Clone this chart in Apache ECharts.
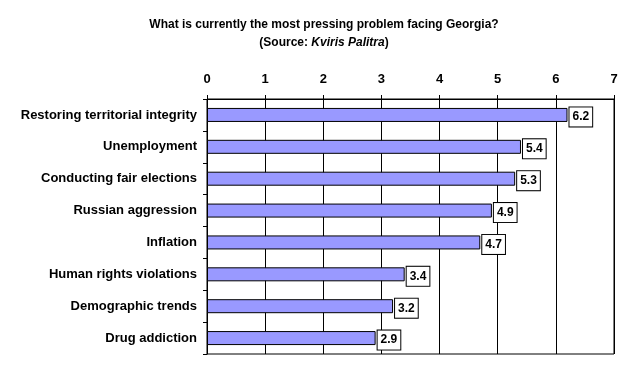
<!DOCTYPE html>
<html>
<head>
<meta charset="utf-8">
<script src="https://cdn.jsdelivr.net/npm/echarts@6/dist/echarts.min.js"></script>
<style>
html,body{margin:0;padding:0;background:#fff;}
#chart{width:635px;height:369px;}
</style>
</head>
<body>
<div id="chart"></div>
<script>
var categories = ["Restoring territorial integrity","Unemployment","Conducting fair elections","Russian aggression","Inflation","Human rights violations","Demographic trends","Drug addiction"];
var values = [6.2, 5.4, 5.3, 4.9, 4.7, 3.4, 3.2, 2.9];
var FONT = "'Liberation Sans', Arial, sans-serif";

var chart = echarts.init(document.getElementById('chart'), null, {renderer:'canvas'});
chart.setOption({
  backgroundColor:'#ffffff',
  animation:false,
  title:{
    text:'What is currently the most pressing problem facing Georgia?\n{n|(Source: }{i|Kviris Palitra}{n|)}',
    left:319, top:11, textAlign:'center',
    textStyle:{fontFamily:FONT,fontSize:12,fontWeight:'bold',color:'#000',lineHeight:18,
      rich:{n:{fontFamily:FONT,fontSize:12,fontWeight:'bold',color:'#000'},
            i:{fontFamily:FONT,fontSize:12,fontWeight:'bold',fontStyle:'italic',color:'#000'}}}
  },
  grid:{left:207,right:21,top:99,bottom:15,show:true,borderColor:'#000',borderWidth:1},
  xAxis:{
    type:'value',position:'top',min:0,max:7,interval:1,
    axisLine:{show:true,lineStyle:{color:'#000',width:1}},
    axisTick:{show:true,length:4,inside:false,lineStyle:{color:'#000'}},
    axisLabel:{fontFamily:FONT,fontSize:13,fontWeight:'bold',color:'#000',margin:13},
    splitLine:{show:true,lineStyle:{color:'#000',width:1}}
  },
  yAxis:{
    type:'category',data:categories,inverse:true,
    axisLine:{show:true,lineStyle:{color:'#000',width:1}},
    axisTick:{show:true,length:4,lineStyle:{color:'#000'}},
    axisLabel:{fontFamily:FONT,fontSize:13,fontWeight:'bold',color:'#000',margin:10},
    splitLine:{show:false}
  },
  series:[{
    type:'bar',data:values,barWidth:14,
    itemStyle:{color:'#9999ff',borderColor:'#000',borderWidth:1},
    label:{show:true,position:'right',distance:2,offset:[0,2],formatter:function(p){return p.value.toFixed(1);},
      fontFamily:FONT,fontSize:12,fontWeight:'bold',color:'#000',
      backgroundColor:'#fff',borderColor:'#000',borderWidth:1,padding:[4,3,3,3]}
  }]
});
</script>
</body>
</html>
